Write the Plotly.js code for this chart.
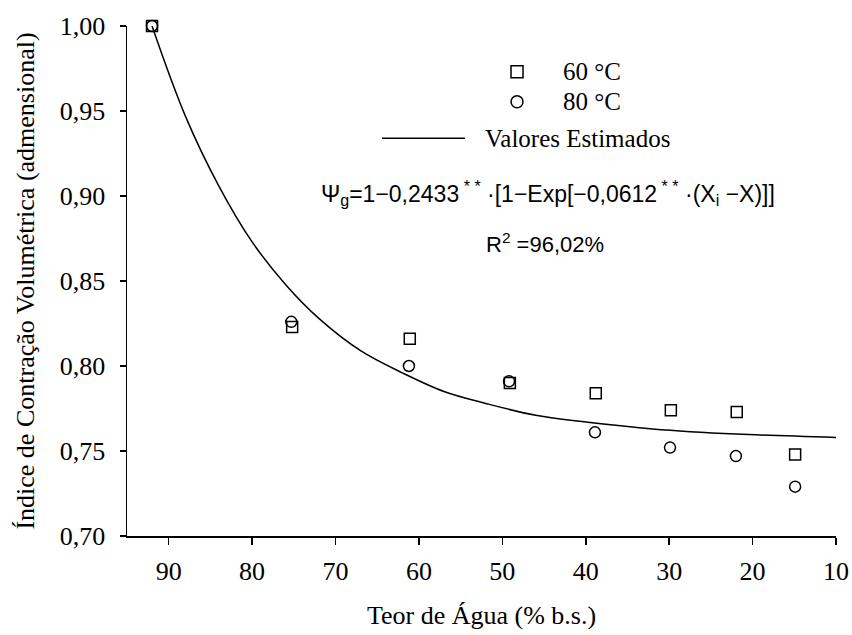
<!DOCTYPE html>
<html>
<head>
<meta charset="utf-8">
<script src="https://cdn.plot.ly/plotly-3.0.1.min.js"></script>
<style>html,body{margin:0;padding:0;background:#fff;}#chart{width:852px;height:635px;}</style>
</head>
<body>
<div id="chart"></div>
<script>
// Data
const moisture60 = [92.0, 75.2, 61.1, 49.1, 38.8, 29.8, 21.9, 14.9];
const psi60      = [1.000, 0.823, 0.816, 0.790, 0.784, 0.774, 0.773, 0.748];
const moisture80 = [92.0, 75.3, 61.2, 49.2, 38.9, 29.9, 22.0, 14.9];
const psi80      = [1.000, 0.826, 0.800, 0.791, 0.761, 0.752, 0.747, 0.729];
const estX       = [92, 88, 84, 80, 76, 72, 67, 62, 57, 52, 46, 40, 32, 22, 10];
const estY       = [1.000, 0.947, 0.906, 0.873, 0.848, 0.828, 0.809, 0.796, 0.785, 0.778, 0.771, 0.767, 0.763, 0.760, 0.758];
const xTicks     = [90, 80, 70, 60, 50, 40, 30, 20, 10];
const yTicks     = [0.70, 0.75, 0.80, 0.85, 0.90, 0.95, 1.00];
const seriesNames = ['60 °C', '80 °C', 'Valores Estimados'];

const serif = 'Liberation Serif, Times New Roman, serif';
const sans = 'Liberation Sans, Arial, sans-serif';

const traces = [
  {x: estX, y: estY, name: seriesNames[2], mode: 'lines', type: 'scatter',
   line: {color: '#000', width: 1.5, shape: 'spline', smoothing: 1}, showlegend: false, cliponaxis: false},
  {x: moisture60, y: psi60, name: seriesNames[0], mode: 'markers', type: 'scatter',
   marker: {symbol: 'square-open', size: 11, color: '#000', line: {width: 1.5, color: '#000'}}, showlegend: false, cliponaxis: false},
  {x: moisture80, y: psi80, name: seriesNames[1], mode: 'markers', type: 'scatter',
   marker: {symbol: 'circle-open', size: 11, color: '#000', line: {width: 1.5, color: '#000'}}, showlegend: false, cliponaxis: false}
];

const legendText = {font: {family: serif, size: 25, color: '#000'}, showarrow: false, xref: 'paper', yref: 'paper', xanchor: 'left', yanchor: 'middle'};

const layout = {
  width: 852, height: 635,
  margin: {l: 127, r: 16, t: 26, b: 99},
  paper_bgcolor: '#fff', plot_bgcolor: '#fff',
  separators: ',.',
  showlegend: false,
  xaxis: {
    range: [95, 10], tickvals: xTicks, ticks: 'outside', ticklen: 7, tickwidth: 1.5, tickcolor: '#000',
    showline: true, linecolor: '#000', linewidth: 1.5, showgrid: false, zeroline: false,
    tickfont: {family: serif, size: 26, color: '#000'}, ticklabelstandoff: 4,
    title: {text: 'Teor de Água (% b.s.)', font: {family: serif, size: 26, color: '#000'}, standoff: 21}
  },
  yaxis: {
    range: [0.70, 1.00], tickvals: yTicks, tickformat: '.2f', ticks: 'outside', ticklen: 6, tickwidth: 1.5, tickcolor: '#000',
    showline: true, linecolor: '#000', linewidth: 1.5, showgrid: false, zeroline: false,
    tickfont: {family: serif, size: 26, color: '#000'}, ticklabelstandoff: 9,
    title: {text: 'Índice de Contração Volumétrica (admensional)', font: {family: serif, size: 26, color: '#000'}, standoff: 17}
  },
  shapes: [
    {type: 'rect', xref: 'paper', yref: 'paper', xsizemode: 'pixel', ysizemode: 'pixel',
     xanchor: 0.5501, yanchor: 0.9104, x0: -6, x1: 6, y0: -6, y1: 6, line: {color: '#000', width: 1.5}},
    {type: 'circle', xref: 'paper', yref: 'paper', xsizemode: 'pixel', ysizemode: 'pixel',
     xanchor: 0.5501, yanchor: 0.8516, x0: -6, x1: 6, y0: -6, y1: 6, line: {color: '#000', width: 1.5}},
    {type: 'line', xref: 'paper', yref: 'paper', x0: 0.3597, x1: 0.4767, y0: 0.7798, y1: 0.7798, line: {color: '#000', width: 1.5}}
  ],
  annotations: [
    Object.assign({}, legendText, {x: 0.612, y: 0.9104, text: seriesNames[0]}),
    Object.assign({}, legendText, {x: 0.612, y: 0.8516, text: seriesNames[1]}),
    Object.assign({}, legendText, {x: 0.502, y: 0.7798, text: seriesNames[2]}),
    {xref: 'paper', yref: 'paper', x: 0.271, y: 0.6725, xanchor: 'left', yanchor: 'middle', showarrow: false,
     font: {family: sans, size: 23, color: '#000'},
     text: 'Ψ<sub>g</sub>=1−0,2433<sup>&nbsp;* *</sup>&nbsp;·[1−Exp[−0,0612<sup>&nbsp;* *</sup>&nbsp;·(X<sub>i</sub>&nbsp;−X)]]'},
    {xref: 'paper', yref: 'paper', x: 0.5896, y: 0.5745, xanchor: 'center', yanchor: 'middle', showarrow: false,
     font: {family: sans, size: 22, color: '#000'},
     text: 'R<sup>2</sup>&nbsp;=96,02%'}
  ]
};

Plotly.newPlot('chart', traces, layout, {displayModeBar: false, staticPlot: true});
</script>
</body>
</html>
